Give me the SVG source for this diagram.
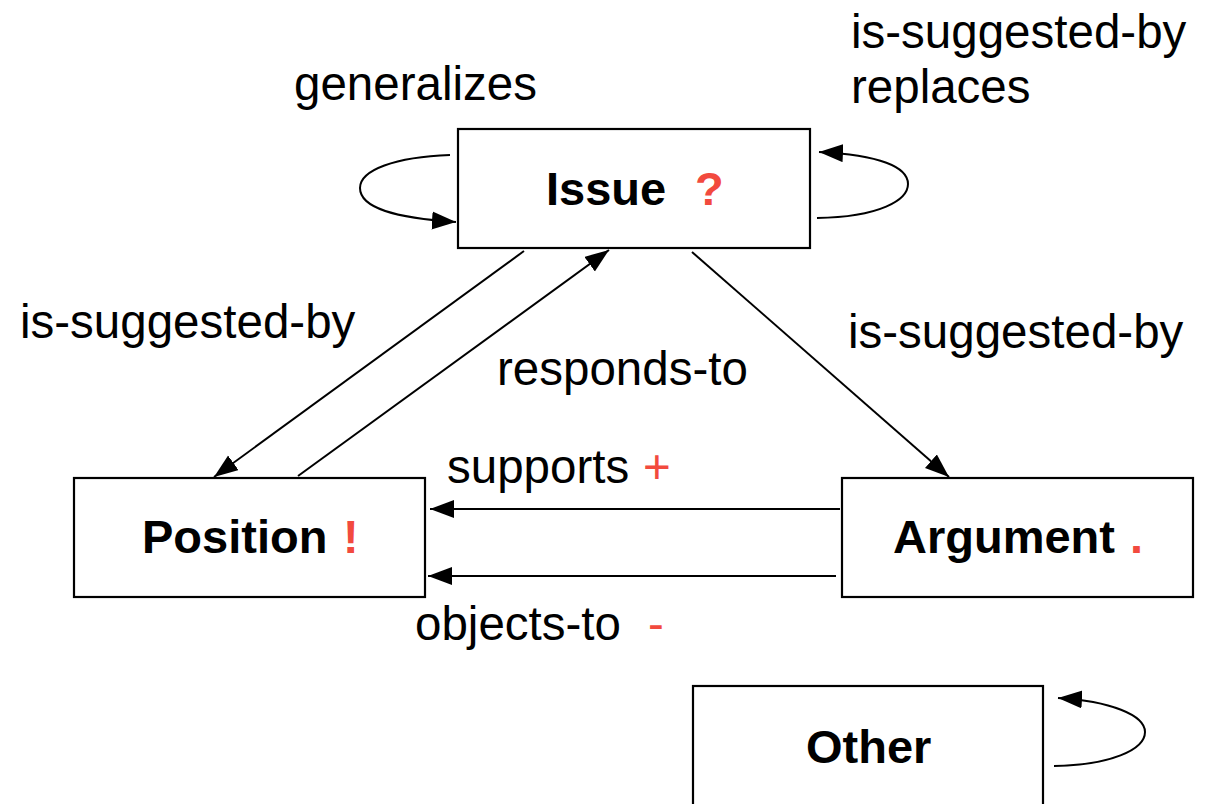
<svg xmlns="http://www.w3.org/2000/svg" width="1205" height="804" viewBox="0 0 1205 804">
<style>
.box{fill:#fff;stroke:#000;stroke-width:2.2}
.lbl{font-family:"Liberation Sans",Arial,Helvetica,sans-serif;font-size:47.5px;fill:#000}
.name{font-family:"Liberation Sans",Arial,Helvetica,sans-serif;font-size:47px;font-weight:bold;fill:#000}
.red{fill:#f24a3e}
.edge{fill:none;stroke:#000;stroke-width:2;marker-end:url(#ah)}
</style>
<defs>
<marker id="ah" markerUnits="userSpaceOnUse" markerWidth="26" markerHeight="20" refX="24" refY="9" orient="auto">
<path d="M0,0 L24,9 L0,18 z" fill="#000"/>
</marker>
</defs>
<rect width="1205" height="804" fill="#fff"/>
<g id="connectors">
<path class="edge" d="M450,155 C395,157 360,170 360,188 C360,208 395,218 456,222"/>
<path class="edge" d="M817,218 C880,217 908,200 908,184 C908,167 880,155 819,152"/>
<path class="edge" d="M524,251 L214,477"/>
<path class="edge" d="M298,476 L609,250"/>
<path class="edge" d="M692,252 L949,477"/>
<path class="edge" d="M840,509 L430,509"/>
<path class="edge" d="M836,576 L428,576"/>
<path class="edge" d="M1054,766 C1110,765 1145,750 1145,732 C1145,715 1110,701 1058,698"/>
<text class="lbl" x="294" y="100">generalizes</text>
<text class="lbl" x="851" y="48">is-suggested-by</text>
<text class="lbl" x="851" y="103">replaces</text>
<text class="lbl" x="20" y="338">is-suggested-by</text>
<text class="lbl" x="497" y="385">responds-to</text>
<text class="lbl" x="848" y="348">is-suggested-by</text>
<text class="lbl" x="447" y="483">supports <tspan class="red" x="643">+</tspan></text>
<text class="lbl" x="415" y="640">objects-to <tspan class="red" x="648">-</tspan></text>
</g>
<g id="issue">
<rect class="box" x="458" y="129" width="352" height="119"/>
<text class="name" x="546" y="205">Issue <tspan class="red" x="695">?</tspan></text>
</g>
<g id="position">
<rect class="box" x="74" y="478" width="351" height="119"/>
<text class="name" x="142" y="553">Position <tspan class="red" x="343">!</tspan></text>
</g>
<g id="argument">
<rect class="box" x="842" y="478" width="351" height="119"/>
<text class="name" x="893" y="553">Argument <tspan class="red" x="1130">.</tspan></text>
</g>
<g id="other">
<rect class="box" x="693" y="686" width="350" height="130"/>
<text class="name" x="806" y="763">Other</text>
</g>
</svg>
